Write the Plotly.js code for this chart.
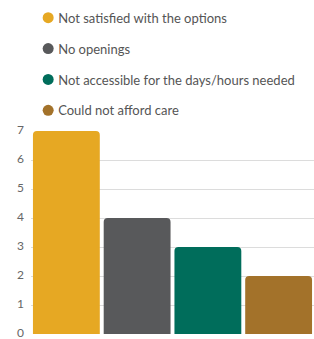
<!DOCTYPE html>
<html><head><meta charset="utf-8">
<script src="https://cdn.plot.ly/plotly-3.0.1.min.js"></script>
<style>html,body{margin:0;padding:0;background:#fff}#c{width:314px;height:339px}</style>
</head><body><div id="c"></div>
<script>
const categories = ["Not satisfied with the options","No openings","Not accessible for the days/hours needed","Could not afford care"];
const values = [7, 4, 3, 2];
const colors = ["#E6A823","#58595B","#006D5B","#A3722A"];
const yTicks = [0,1,2,3,4,5,6,7];

const traces = [];
categories.forEach((c,i)=>{
  traces.push({type:'bar', x:[c], y:[values[i]], marker:{color:colors[i]}, showlegend:false, hoverinfo:'y'});
});
categories.forEach((c,i)=>{
  traces.push({type:'scatter', mode:'markers', x:[null], y:[null], name:c, legendgroup:'g'+i,
    marker:{color:colors[i], size:11, symbol:'circle'}, hoverinfo:'skip'});
});

const layout = {
  width:314, height:339,
  margin:{l:31, r:0, t:131, b:5},
  paper_bgcolor:'#fff', plot_bgcolor:'#fff',
  font:{family:'Lato, sans-serif', size:13, color:'#555'},
  barmode:'overlay', bargap:0.055, barcornerradius:4,
  xaxis:{categoryorder:'array', categoryarray:categories, showticklabels:false, showgrid:false, zeroline:false, fixedrange:true},
  yaxis:{range:[0,7], tickvals:yTicks, ticktext:yTicks.map(String), showgrid:true, gridcolor:'#dcdcdc', zeroline:false, showline:false, ticks:'',
    ticklabelstandoff:6, ticklabelshift:-1, ticklabeloverflow:'allow',
    tickfont:{size:12, color:'#666'}, automargin:false, fixedrange:true},
  showlegend:true,
  legend:{orientation:'v', x:-0.01, xanchor:'left', y:1.632, yanchor:'top', traceorder:'grouped', tracegroupgap:11,
    font:{size:13, color:'#555'}, bgcolor:'rgba(0,0,0,0)', itemclick:false, itemdoubleclick:false}
};
Plotly.newPlot('c', traces, layout, {displayModeBar:false, staticPlot:true}).then(gd=>{
  gd.querySelectorAll('.legendtext').forEach(t=>t.setAttribute('x', '30'));
});
</script></body></html>
